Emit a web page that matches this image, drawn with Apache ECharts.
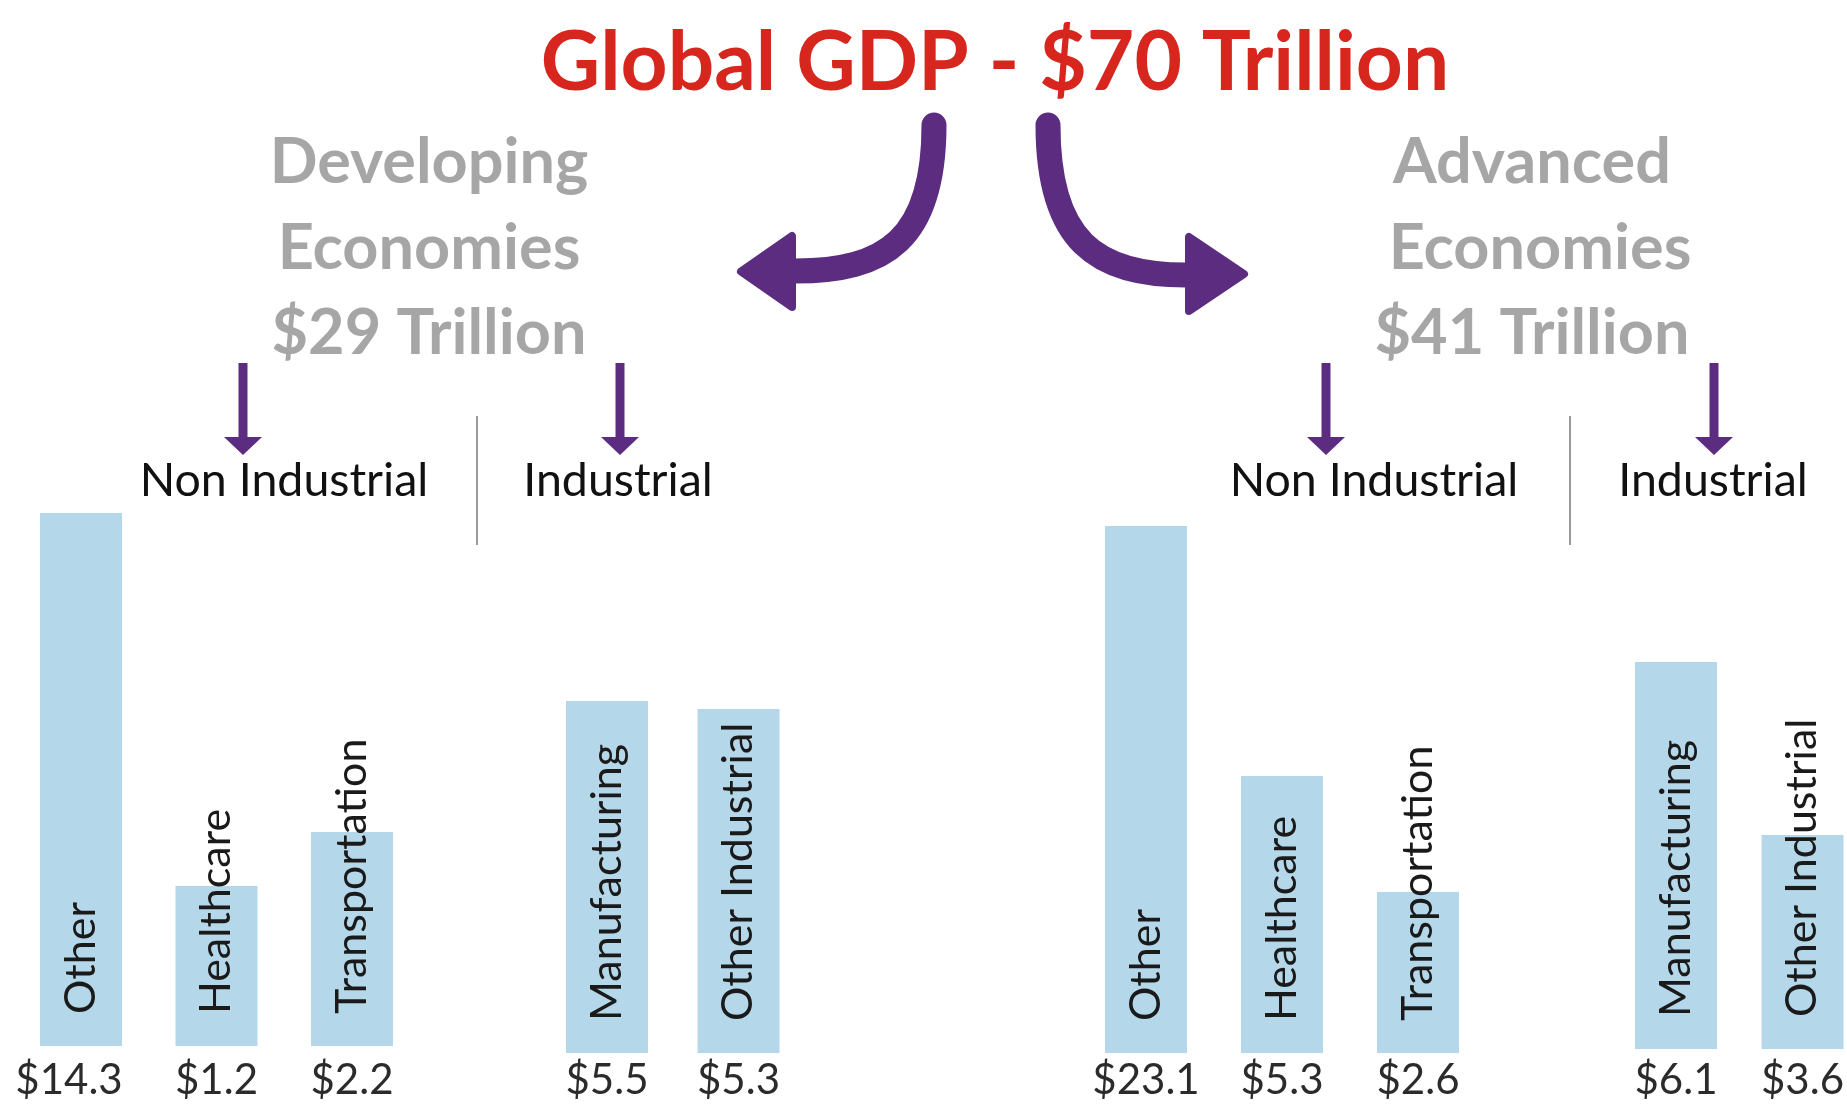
<!DOCTYPE html>
<html>
<head>
<meta charset="utf-8">
<script src="https://cdn.jsdelivr.net/npm/echarts@6/dist/echarts.min.js"></script>
<style>
html,body{margin:0;padding:0;background:#fff;}
#chart{width:1847px;height:1104px;}
</style>
</head>
<body>
<div id="chart"></div>
<script>
// ---- Data ----
const titleText = 'Global GDP - $70 Trillion';
const developingLines = ['Developing', 'Economies', '$29 Trillion'];
const advancedLines = ['Advanced', 'Economies', '$41 Trillion'];
const groupNames = ['Non Industrial', 'Industrial'];

// Developing economies
const devNonIndCategories = ['Other', 'Healthcare', 'Transportation'];
const devNonIndValues = [14.3, 1.2, 2.2];            // $ trillion (labels)
const devNonIndHeights = [53.3, 16.0, 21.4];          // drawn bar heights (relative units)
const devIndCategories = ['Manufacturing', 'Other Industrial'];
const devIndValues = [5.5, 5.3];
const devIndHeights = [35.2, 34.4];

// Advanced economies
const advNonIndCategories = ['Other', 'Healthcare', 'Transportation'];
const advNonIndValues = [23.1, 5.3, 2.6];
const advNonIndHeights = [52.7, 27.7, 16.1];
const advIndCategories = ['Manufacturing', 'Other Industrial'];
const advIndValues = [6.1, 3.6];
const advIndHeights = [38.7, 21.4];

// ---- Styling / layout ----
const FONT = 'Lato, "Open Sans", sans-serif';
const BAR_COLOR = '#b5d7ea';
const PURPLE = '#5b2c80';
const GRAY = '#a6a6a6';

// first / last bar centre (px) and baseline for each panel
const panels = [
  {cats: devNonIndCategories, vals: devNonIndValues, h: devNonIndHeights, x0: 81, x1: 352, baseY: 1046, shiftFirst: 24},
  {cats: devIndCategories, vals: devIndValues, h: devIndHeights, x0: 607, x1: 738.5, baseY: 1053},
  {cats: advNonIndCategories, vals: advNonIndValues, h: advNonIndHeights, x0: 1146, x1: 1418, baseY: 1053},
  {cats: advIndCategories, vals: advIndValues, h: advIndHeights, x0: 1676, x1: 1803.5, baseY: 1049}
];
const LABEL_CENTER_Y = 1080;

const grid = [], xAxis = [], yAxis = [], series = [];
panels.forEach((p, i) => {
  grid.push({left: p.x0, width: p.x1 - p.x0, top: p.baseY - 600, height: 600, containLabel: false});
  const axisData = p.cats.map((c, k) => (k === 0 && p.shiftFirst)
    ? {value: c, textStyle: {padding: [0, p.shiftFirst, 0, 0]}} : c);
  xAxis.push({
    type: 'category', gridIndex: i, data: axisData, boundaryGap: false,
    axisLine: {show: false}, axisTick: {show: false}, splitLine: {show: false},
    axisLabel: {
      interval: 0, margin: LABEL_CENTER_Y - p.baseY - 21,
      fontFamily: FONT, fontSize: 42, color: '#2b2b2b',
      formatter: (v, idx) => '$' + p.vals[idx].toFixed(1)
    }
  });
  yAxis.push({type: 'value', gridIndex: i, min: 0, max: 60, show: false, splitLine: {show: false}});
  series.push({
    type: 'bar', xAxisIndex: i, yAxisIndex: i, data: p.h, barWidth: 82, clip: false,
    itemStyle: {color: BAR_COLOR},
    label: {
      show: true, position: 'insideBottom', rotate: 90, align: 'left', verticalAlign: 'middle',
      distance: 32, formatter: (d) => d.name,
      fontFamily: FONT, fontSize: 43, color: '#1a1a1a'
    },
    silent: true, animation: false
  });
});

function text(str, x, y, size, color, weight) {
  return {type: 'text', x: x, y: y, silent: true,
    style: {text: str, fontFamily: FONT, fontSize: size, fontWeight: weight || 'normal',
      fill: color, align: 'center', verticalAlign: 'middle'}};
}
function downArrow(x) {
  return [
    {type: 'line', silent: true, shape: {x1: x, y1: 363, x2: x, y2: 440}, style: {stroke: PURPLE, lineWidth: 9}},
    {type: 'polygon', silent: true, shape: {points: [[x - 19, 437], [x + 19, 437], [x, 455]]}, style: {fill: PURPLE}}
  ];
}
function separator(x) {
  return {type: 'line', silent: true, shape: {x1: x, y1: 416, x2: x, y2: 545}, style: {stroke: '#9a9a9a', lineWidth: 2}};
}

const graphic = [];
graphic.push(text(titleText, 995, 64, 82, '#d7261e', 'bold'));
const lineY = [163, 249, 334];
const devX = [429, 429, 429];
const advX = [1532, 1540, 1532];
developingLines.forEach((s, i) => graphic.push(text(s, devX[i], lineY[i], 63, GRAY, 'bold')));
advancedLines.forEach((s, i) => graphic.push(text(s, advX[i], lineY[i], 63, GRAY, 'bold')));
// curved arrows
graphic.push({type: 'bezierCurve', silent: true,
  shape: {x1: 934, y1: 125, cpx1: 934, cpy1: 240, cpx2: 885, cpy2: 271, x2: 795, y2: 271},
  style: {stroke: PURPLE, lineWidth: 25, fill: null, lineCap: 'round'}});
graphic.push({type: 'polygon', silent: true,
  shape: {points: [[741, 271.5], [792, 236], [792, 307]]},
  style: {fill: PURPLE, stroke: PURPLE, lineWidth: 8, lineJoin: 'round'}});
graphic.push({type: 'bezierCurve', silent: true,
  shape: {x1: 1048, y1: 125, cpx1: 1048, cpy1: 242, cpx2: 1097, cpy2: 275, x2: 1186, y2: 275},
  style: {stroke: PURPLE, lineWidth: 25, fill: null, lineCap: 'round'}});
graphic.push({type: 'polygon', silent: true,
  shape: {points: [[1244, 274], [1189, 237], [1189, 311]]},
  style: {fill: PURPLE, stroke: PURPLE, lineWidth: 8, lineJoin: 'round'}});
// small arrows
[243, 620, 1326, 1714].forEach(x => downArrow(x).forEach(g => graphic.push(g)));
// sub-group headings
graphic.push(text(groupNames[0], 284, 481, 46.5, '#111111'));
graphic.push(text(groupNames[1], 618, 481, 46.5, '#111111'));
graphic.push(text(groupNames[0], 1374, 481, 46.5, '#111111'));
graphic.push(text(groupNames[1], 1713, 481, 46.5, '#111111'));
graphic.push(separator(477));
graphic.push(separator(1570));

const chart = echarts.init(document.getElementById('chart'), null, {renderer: 'canvas'});
chart.setOption({
  backgroundColor: '#ffffff',
  animation: false,
  grid: grid, xAxis: xAxis, yAxis: yAxis, series: series,
  graphic: graphic
});
</script>
</body>
</html>
